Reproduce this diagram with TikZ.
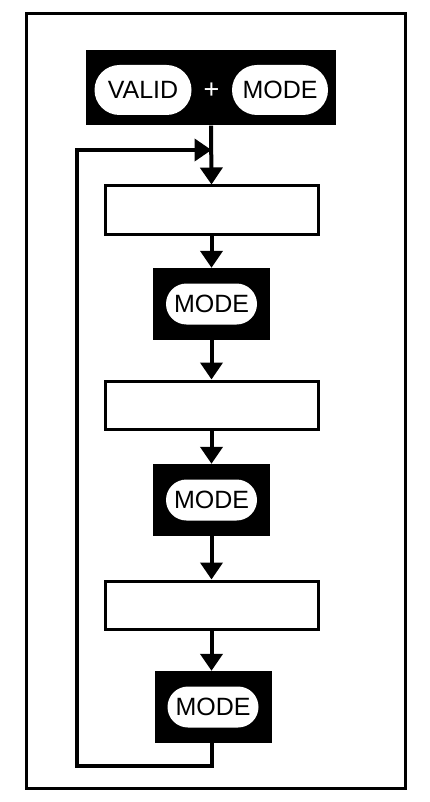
\documentclass[tikz,border=0pt]{standalone}
\usepackage{fontspec}
\setmainfont{Liberation Sans}
\usetikzlibrary{arrows.meta,shapes.misc}

\tikzset{
  stage/.style={draw, line width=3pt, fill=white, minimum width=213pt, minimum height=48pt, inner sep=0pt},
  blackbox/.style={fill=black, inner sep=0pt},
  pill/.style={rounded rectangle, fill=white, inner sep=0pt, font=\fontsize{25}{25}\selectfont},
  flow/.style={line width=4pt, -{Triangle[length=17pt,width=22pt]}},
}

\begin{document}
\begin{tikzpicture}[x=1pt,y=-1pt]
	\useasboundingbox (0,0) rectangle (430,802);
	\draw[line width=3pt] (26,14) rectangle (405,788);
	
	% start: VALID + MODE
	\node[blackbox, minimum width=250pt, minimum height=75pt] (top) at (211,88) {};
	\node[pill, minimum width=97pt, minimum height=50pt] (valid) at (143,90) {VALID};
	\node[pill, minimum width=96pt, minimum height=50pt] (mode0) at (280,90) {MODE};
	\node[white, font=\fontsize{27}{27}\selectfont] (plus) at (211.5,91) {+};
	
	% stages
	\node[stage] (s1) at (211.5,210) {};
	\node[blackbox, minimum width=117pt, minimum height=72pt] (m1) at (211.5,304) {};
	\node[pill, minimum width=91pt, minimum height=41pt] at (m1) {MODE};
	\node[stage] (s2) at (211.5,405) {};
	\node[blackbox, minimum width=117pt, minimum height=72pt] (m2) at (211.5,500) {};
	\node[pill, minimum width=91pt, minimum height=41pt] at (m2) {MODE};
	\node[stage] (s3) at (211.5,605) {};
	\node[blackbox, minimum width=117pt, minimum height=72pt] (m3) at (213,707) {};
	\node[pill, minimum width=91pt, minimum height=41pt] at (m3) {MODE};
	
	\coordinate (join) at (211.5,150);
	\coordinate (lb) at (77,766);
	
	\draw[flow] (top.south) -- (s1.north);
	\draw[flow] (s1.south) -- (m1.north);
	\draw[flow] (m1.south) -- (s2.north);
	\draw[flow] (s2.south) -- (m2.north);
	\draw[flow] (m2.south) -- (s3.north);
	\draw[flow] (s3.south) -- (s3.south |- m3.north);
	
	% loop back
	\draw[flow] (m3.south -| s3.south) |- (lb) |- (join);
\end{tikzpicture}
\end{document}
